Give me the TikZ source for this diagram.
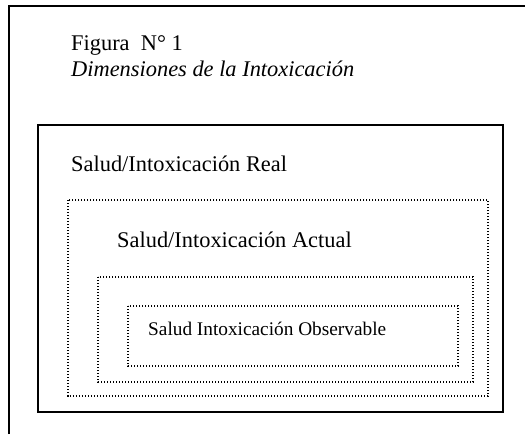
\documentclass[tikz,border=0pt]{standalone}
\usepackage{fontspec}
\setmainfont{Liberation Serif}
\begin{document}
\begin{tikzpicture}[x=1pt,y=-1pt,
  big/.style={inner sep=0pt,anchor=base west,font=\fontsize{22.4}{26}\selectfont},
  small/.style={inner sep=0pt,anchor=base west,font=\fontsize{19.3}{23}\selectfont},
  frame/.style={line width=2pt,black},
  solidbox/.style={line width=1.6pt,black},
  dotbox/.style={line width=1.1pt,black,dash pattern=on 1.1pt off 1.9pt}]
\useasboundingbox (0,0) rectangle (525,434);
% outer frame
\draw[frame] (9,434) -- (9,6) -- (525,6);
% title
\node[big] (fig) at (71,50) {Figura\ \ N° 1};
\node[big] (dim) at (71,76) {\itshape Dimensiones de la Intoxicación};
% boxes
\draw[solidbox] (38,125) rectangle (503,412);
\draw[dotbox] (68,200) rectangle (488,396);
\draw[dotbox] (98,277) rectangle (473,382);
\draw[dotbox] (128,306) rectangle (458,366);
% labels
\node[big] (real) at (71,171) {Salud/Intoxicación Real};
\node[big] (actual) at (117,247) {Salud/Intoxicación Actual};
\node[small] (obs) at (148,335) {Salud Intoxicación Observable};
\end{tikzpicture}
\end{document}
